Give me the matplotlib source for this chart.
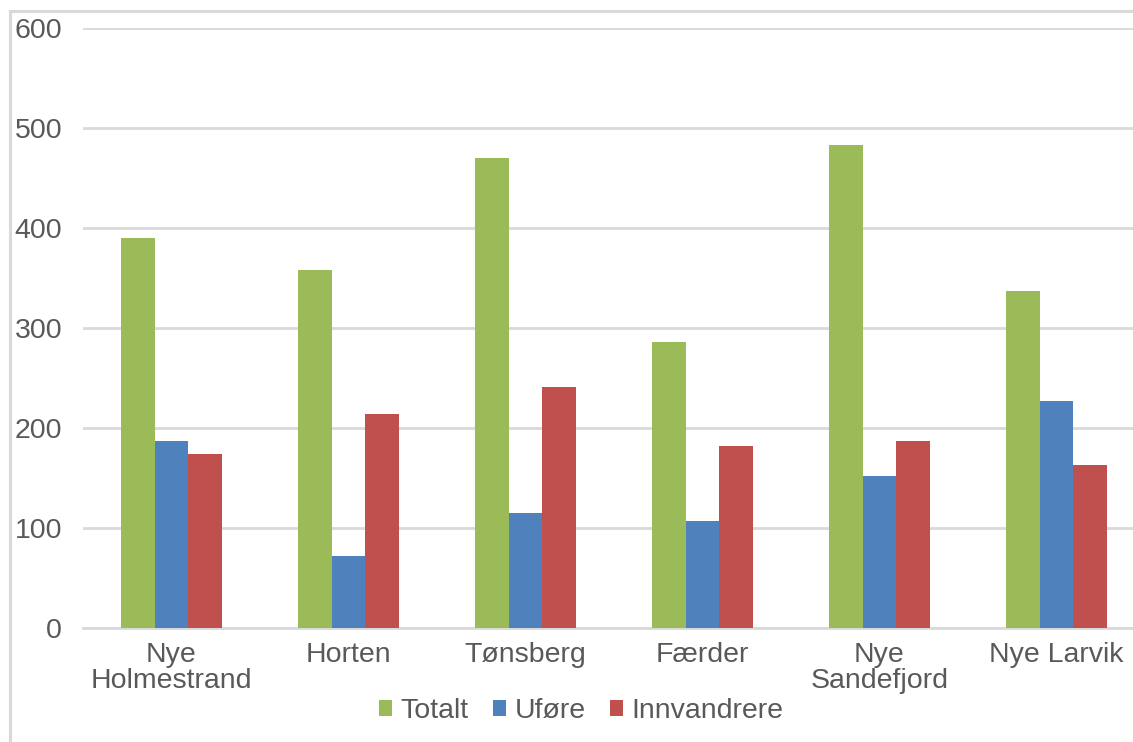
import matplotlib
matplotlib.use("Agg")
import matplotlib.pyplot as plt
import numpy as np
from matplotlib.patches import Rectangle

categories = ["Nye\nHolmestrand", "Horten", "Tønsberg", "Færder", "Nye\nSandefjord", "Nye Larvik"]
series_names = ["Totalt", "Uføre", "Innvandrere"]
totalt = [390, 358, 470, 286, 483, 337]
ufore = [187, 72, 115, 107, 152, 227]
innvandrere = [174, 214, 241, 182, 187, 163]
colors = ["#9bbb59", "#4f81bd", "#c0504d"]
yticks = [0, 100, 200, 300, 400, 500, 600]

plt.rcParams['font.family'] = ['Liberation Sans', 'DejaVu Sans']
W, H = 1133, 742
fig = plt.figure(figsize=(W/100, H/100), dpi=100)
fig.patches.append(Rectangle((10/W, -0.5), 2, 1.5 - 11/H, transform=fig.transFigure,
                             fill=False, edgecolor="#d9d9d9", linewidth=2.2, zorder=0))
ax = fig.add_axes([83/W, 1 - 628/H, (1145-83)/W, (628-28)/H])

x = np.arange(len(categories))
bw = 0.19
for i, (vals, name) in enumerate(zip([totalt, ufore, innvandrere], series_names)):
    ax.bar(x + (i-1)*bw, vals, bw, color=colors[i], label=name, zorder=3)

ax.set_xlim(-0.5, len(categories)-0.5)
ax.set_ylim(0, 600)
ax.set_yticks(yticks)
ax.set_xticks(x)
ax.set_xticklabels(categories, linespacing=1.0)
ax.grid(axis='y', color="#d9d9d9", linewidth=2, zorder=0)
ax.set_axisbelow(True)
for s in ["top", "right", "left"]:
    ax.spines[s].set_visible(False)
ax.spines["bottom"].set_color("#d9d9d9")
ax.spines["bottom"].set_linewidth(2)
ax.tick_params(axis='both', length=0, labelsize=20.5, labelcolor="#595959")
ax.tick_params(axis='y', pad=15)
ax.tick_params(axis='x', pad=10)

fig.legend(loc='center', bbox_to_anchor=(581/W, 1 - 711/H), ncol=3, frameon=False,
           fontsize=20.5, labelcolor="#595959", handlelength=0.46, handleheight=0.46,
           handletextpad=0.3, columnspacing=0.85)
fig.savefig("out.png", dpi=100)
